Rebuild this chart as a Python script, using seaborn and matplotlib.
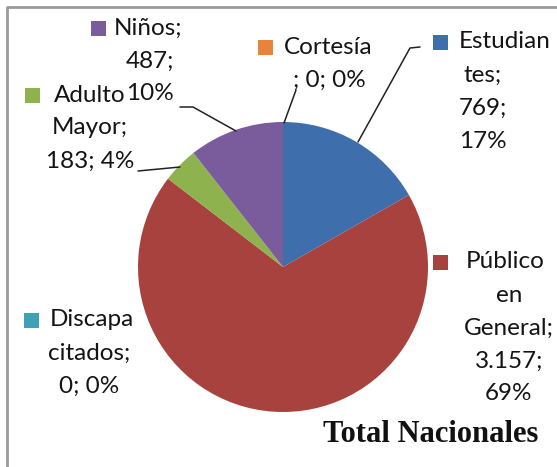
import matplotlib
matplotlib.use("Agg")
import matplotlib.pyplot as plt
import seaborn as sns
from matplotlib.lines import Line2D
from matplotlib.patches import Rectangle

# ---- data ----
categories = ["Estudiantes", "Público en General", "Discapacitados", "Adulto Mayor", "Niños", "Cortesía"]
values = [769, 3157, 0, 183, 487, 0]
percent_labels = ["17%", "69%", "0%", "4%", "10%", "0%"]
colors = ["#3F6EAC", "#A8423E", "#3FA0B8", "#8DB24E", "#7A5B9C", "#E8833A"]
title = "Total Nacionales"

sns.set_theme(style="white")
plt.rcParams["font.family"] = ["Lato", "DejaVu Sans"]

W, H = 557, 467
fig = plt.figure(figsize=(W / 100, H / 100), dpi=100)
fig.patch.set_facecolor("white")
ax = fig.add_axes([0, 0, 1, 1])

palette = sns.color_palette(colors)
cx, cy, r = 283, 267, 145
ax.pie(values, colors=palette, startangle=90, counterclock=False,
       center=(cx, H - cy), radius=r, wedgeprops=dict(linewidth=0))
ax.set_xlim(0, W)
ax.set_ylim(0, H)
ax.set_aspect("auto")
ax.axis("off")

def Y(y):
    return H - y

def fmt(v):
    return f"{v:,}".replace(",", ".")
pct = percent_labels

# label lines per category (first line is next to the colour key)
labels = {
    "Estudiantes": ["Estudian", "tes;", f"{fmt(values[0])};", pct[0]],
    "Público en General": ["Público", "en", "General;", f"{fmt(values[1])};", pct[1]],
    "Discapacitados": ["Discapa", "citados;", f"{fmt(values[2])}; {pct[2]}"],
    "Adulto Mayor": ["Adulto", "Mayor;", f"{fmt(values[3])}; {pct[3]}"],
    "Niños": ["Niños;", f"{fmt(values[4])};", pct[4]],
    "Cortesía": ["Cortesía", f"; {fmt(values[5])}; {pct[5]}"],
}
# layout: marker centre, first-line left x, centre x of other lines, first-line y, line step
layout = {
    "Estudiantes": (440, 42, 459, 483, 42, 33),
    "Público en General": (440, 262, 466, 509, 262, 33),
    "Discapacitados": (31, 320, 50, 89, 320, 33),
    "Adulto Mayor": (32, 95, 54, 90, 95, 33),
    "Niños": (98, 28, 114, 150, 28, 33),
    "Cortesía": (265, 47, 284, 329, 47, 33),
}
fs = 17.5
for i, cat in enumerate(categories):
    mx, my, lx, ccx, y0, step = layout[cat]
    ax.add_patch(Rectangle((mx - 7.5, Y(my) - 7.5), 15, 15, color=palette[i], lw=0))
    lines = labels[cat]
    ax.text(lx, Y(y0), lines[0], ha="left", va="center", fontsize=fs, color="#141414")
    for k, ln in enumerate(lines[1:], start=1):
        ax.text(ccx, Y(y0 + k * step), ln, ha="center", va="center", fontsize=fs, color="#141414")

# leader lines
leaders = [
    [(180, 107), (193, 107), (236, 131)],   # Niños
    [(138, 171), (180, 167)],               # Adulto Mayor
    [(284, 123), (296, 90)],                # Cortesía
    [(358, 142), (410, 48), (420, 47)],     # Estudiantes
]
for pts in leaders:
    xs = [p[0] for p in pts]
    ys = [Y(p[1]) for p in pts]
    ax.add_line(Line2D(xs, ys, color="#222222", lw=1.1))

ax.text(431, Y(434), title, ha="center", va="center", fontsize=22, fontweight="bold",
        family=["Liberation Serif", "DejaVu Serif"], color="#111111")

# frame (left and top visible)
ax.add_line(Line2D([6.5, 6.5, W + 5], [-5, Y(7), Y(7)], color="#9a9a9a", lw=2))

fig.savefig("out.png", dpi=100, facecolor="white")
